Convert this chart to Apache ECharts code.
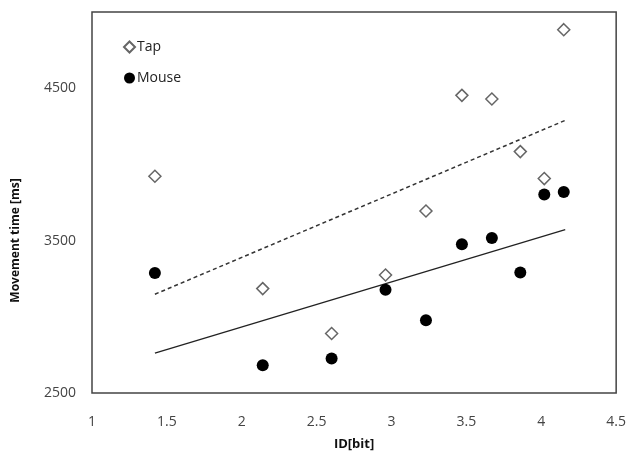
<!DOCTYPE html>
<html>
<head>
<meta charset="utf-8">
<style>html,body{margin:0;padding:0;background:#fff;}#c{width:629px;height:467px;}</style>
<script src="https://cdn.jsdelivr.net/npm/echarts@6/dist/echarts.min.js"></script>
</head>
<body>
<div id="c"></div>
<script>
const idBits = [1.42, 2.14, 2.60, 2.96, 3.23, 3.47, 3.67, 3.86, 4.02, 4.15];
const tapTimes = [3922, 3185, 2890, 3274, 3694, 4453, 4429, 4084, 3907, 4884];
const mouseTimes = [3287, 2682, 2726, 3178, 2977, 3476, 3517, 3290, 3802, 3819];
const tapTrendX = [1.42, 4.16];
const tapTrendY = [3148, 4289];
const mouseTrendX = [1.42, 4.16];
const mouseTrendY = [2762, 3572];

const pairs = (xs, ys) => xs.map((x, i) => [x, ys[i]]);
const FONT = 'Open Sans';

const chart = echarts.init(document.getElementById('c'));
chart.setOption({
  animation: false,
  textStyle: { fontFamily: FONT },
  grid: { left: 92, right: 11, top: 12, bottom: 74, show: true, borderColor: '#444', borderWidth: 1.5, backgroundColor: '#fff' },
  legend: {
    data: ['Tap', 'Mouse'],
    orient: 'vertical',
    left: 118, top: 35,
    itemGap: 17,
    itemWidth: 11, itemHeight: 11,
    textStyle: { fontFamily: FONT, fontSize: 14, color: '#222', padding: [0, 0, 0, -3] }
  },
  xAxis: {
    type: 'value', min: 1, max: 4.5, interval: 0.5,
    name: 'ID[bit]', nameLocation: 'middle', nameGap: 45,
    nameTextStyle: { fontFamily: FONT, fontSize: 13, fontWeight: 'bold', color: '#111' },
    axisLine: { show: false }, axisTick: { show: false }, splitLine: { show: false },
    axisLabel: { fontFamily: FONT, fontSize: 14, color: '#444', margin: 22 }
  },
  yAxis: {
    type: 'value', min: 2500, max: 5000, interval: 1000,
    name: 'Movement time [ms]', nameLocation: 'middle', nameGap: 70,
    nameTextStyle: { fontFamily: FONT, fontSize: 12, fontWeight: 'bold', color: '#111', padding: [0, 76, 0, 0] },
    axisLine: { show: false }, axisTick: { show: false }, splitLine: { show: false },
    axisLabel: { fontFamily: FONT, fontSize: 14, color: '#444', margin: 16, showMaxLabel: false, formatter: v => String(v) }
  },
  series: [
    {
      name: 'TapTrend', type: 'line', data: pairs(tapTrendX, tapTrendY), showSymbol: false, symbol: 'none',
      lineStyle: { color: '#333', width: 1.5, type: [4, 3] }, z: 1
    },
    {
      name: 'MouseTrend', type: 'line', data: pairs(mouseTrendX, mouseTrendY), showSymbol: false, symbol: 'none',
      lineStyle: { color: '#222', width: 1.3 }, z: 1
    },
    {
      name: 'Tap', type: 'scatter', data: pairs(idBits, tapTimes), symbol: 'diamond', symbolSize: 12,
      itemStyle: { color: '#fff', borderColor: '#666', borderWidth: 1.5, opacity: 1 }, z: 3
    },
    {
      name: 'Mouse', type: 'scatter', data: pairs(idBits, mouseTimes), symbol: 'circle', symbolSize: 12,
      itemStyle: { color: '#000', opacity: 1 }, z: 3
    }
  ]
});
</script>
</body>
</html>
